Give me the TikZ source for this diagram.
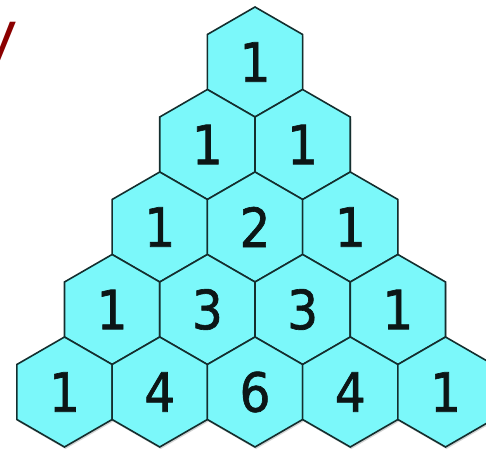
\documentclass[tikz,border=0pt]{standalone}
\usepackage{fontspec}
\setmainfont{DejaVu Sans Condensed}
\newfontfamily\digitfont[FakeBold=1.2]{DejaVu Sans Condensed}
\newfontfamily\vfont{Liberation Sans}
\usetikzlibrary{shapes.geometric,shadows}
\definecolor{hexfill}{HTML}{7BF8FA}
\definecolor{hexline}{HTML}{142E2E}
\definecolor{hextext}{HTML}{0C1616}
\definecolor{darkred}{HTML}{8B0000}

\begin{document}
\begin{tikzpicture}[x=1pt,y=1pt,
  hexcell/.style={regular polygon,regular polygon sides=6,shape border rotate=30,minimum size=110pt,inner sep=0pt,
    fill=hexfill,draw=hexline,line width=1.6pt,text=hextext,font=\digitfont\fontsize{54}{54}\selectfont,
    drop shadow={opacity=.35,shadow xshift=1pt,shadow yshift=-2pt}}]
\useasboundingbox (0,0) rectangle (486,449);
\begin{scope}
\clip (0,0) rectangle (486,449);
\node[anchor=north east,inner sep=0pt,text=darkred,font=\vfont\fontsize{60}{60}\selectfont] (vmark) at (17,427){V};
% rows of the triangle, top to bottom
\foreach \r in {0,...,4}{
  \foreach \k in {0,...,\r}{
    \pgfmathtruncatemacro{\c}{factorial(\r)/(factorial(\k)*factorial(\r-\k))}
    \node[hexcell] (h-\r-\k) at ({255+(\k-\r/2)*95.26},{387-\r*82.5}){\c};
  }
}
\end{scope}
\end{tikzpicture}
\end{document}
